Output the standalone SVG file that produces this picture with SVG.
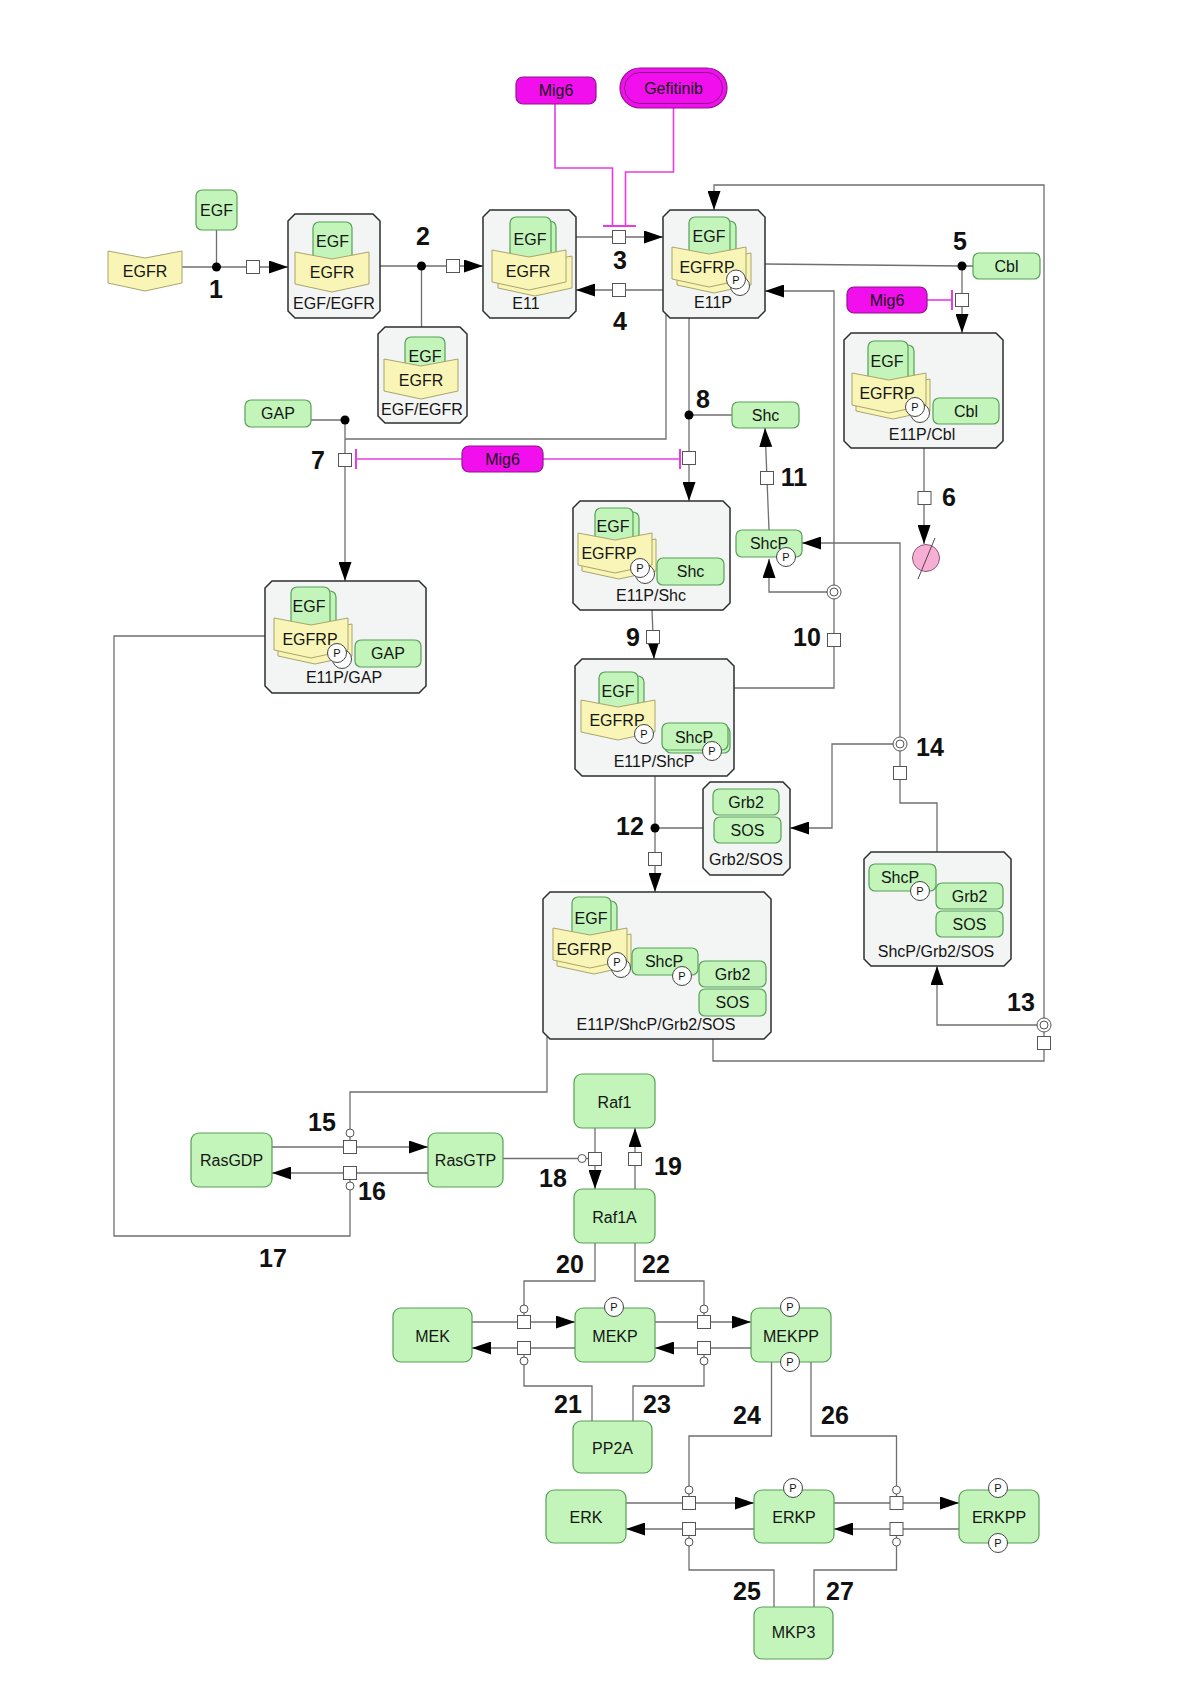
<svg xmlns="http://www.w3.org/2000/svg" xmlns:xlink="http://www.w3.org/1999/xlink" width="1200" height="1697" viewBox="0 0 1200 1697">
<style>
.gn{fill:#c3f5ba;stroke:#57a057;stroke-width:1.2}
.cx{fill:#f3f4f4;stroke:#2e2e2e;stroke-width:1.5}
.rcp{fill:#f8f5b6;stroke:#a9a56c;stroke-width:1}
.mg{fill:#f20fee;stroke:#8c168c;stroke-width:1.2}
.t{font-family:"Liberation Sans",Arial,sans-serif;font-size:16px;fill:#151515;text-anchor:middle}
.n{font-family:"Liberation Sans",Arial,sans-serif;font-size:25px;font-weight:bold;fill:#111;text-anchor:middle}
.pt{font-family:"Liberation Sans",Arial,sans-serif;font-size:11px;fill:#111;text-anchor:middle}
.ln{fill:none;stroke:#6f6f6f;stroke-width:1.3}
.inh{fill:none;stroke:#e83ce2;stroke-width:1.6}
.bar{fill:none;stroke:#e83ce2;stroke-width:2}
.sq{fill:#fff;stroke:#555;stroke-width:1}
.pc{fill:#fff;stroke:#444;stroke-width:1}
.dot{fill:#000}
.oc{fill:#fff;stroke:#555;stroke-width:1}
.dg{fill:#f7aed3;stroke:#8a5a73;stroke-width:1}
</style>
<defs>
<marker id="arr" markerUnits="userSpaceOnUse" markerWidth="19" markerHeight="13" refX="19" refY="6.5" orient="auto"><path d="M0,0 L19,6.5 L0,13 Z" fill="#000"/></marker>
<path id="chev" d="M0,0 L37,7 L74,0 V32 L37,40 L0,32 Z"/>
</defs>
<rect width="1200" height="1697" fill="#fff"/>

<g id="connectors">
<path class="ln" d="M182,267 H288" marker-end="url(#arr)"/>
<path class="ln" d="M216.5,230 V267"/>
<path class="ln" d="M380,266 H483" marker-end="url(#arr)"/>
<path class="ln" d="M421.5,266 V327"/>
<path class="ln" d="M576,237 H663" marker-end="url(#arr)"/>
<path class="ln" d="M663,290 H576" marker-end="url(#arr)"/>
<path class="inh" d="M555,104 V168 H612.5 V226"/>
<path class="inh" d="M673.5,108 V172 H625.5 V226"/>
<path class="bar" d="M603,226 H636"/>
<path class="ln" d="M765,264 L962,266 H973"/>
<path class="ln" d="M962,266 V333" marker-end="url(#arr)"/>
<path class="inh" d="M927,300 H952"/>
<path class="bar" d="M952,290 V310"/>
<path class="ln" d="M924,448 V544" marker-end="url(#arr)"/>
<path class="ln" d="M311,420 H345"/>
<path class="ln" d="M345,420 V581" marker-end="url(#arr)"/>
<path class="ln" d="M666,315 V439 H345"/>
<path class="inh" d="M462,459 H356"/>
<path class="bar" d="M356,449 V469"/>
<path class="ln" d="M689,318 V501" marker-end="url(#arr)"/>
<path class="ln" d="M689,415 H732"/>
<path class="inh" d="M543,459 H680"/>
<path class="bar" d="M680,449 V469"/>
<path class="ln" d="M652,610 L654,659" marker-end="url(#arr)"/>
<path class="ln" d="M734,688 H834 V291 H765" marker-end="url(#arr)"/>
<path class="ln" d="M834,592 H769 V559" marker-end="url(#arr)"/>
<path class="ln" d="M769,530 L765,428" marker-end="url(#arr)"/>
<path class="ln" d="M655,776 V892" marker-end="url(#arr)"/>
<path class="ln" d="M655,828 H703"/>
<path class="ln" d="M713,1039 V1061 H1044 V185 H714 V210" marker-end="url(#arr)"/>
<path class="ln" d="M1044,1025 H937 V966" marker-end="url(#arr)"/>
<path class="ln" d="M937,852 V803 H900 V543 H802" marker-end="url(#arr)"/>
<path class="ln" d="M900,744 H832 V828 H790" marker-end="url(#arr)"/>
<path class="ln" d="M272,1147 H428" marker-end="url(#arr)"/>
<path class="ln" d="M428,1173 H272" marker-end="url(#arr)"/>
<path class="ln" d="M547,1037 V1092 H350 V1140.5"/>
<path class="ln" d="M350,1179.5 V1236 H114 V636 H265"/>
<path class="ln" d="M595,1128 V1189" marker-end="url(#arr)"/>
<path class="ln" d="M503,1158.5 H588.5"/>
<path class="ln" d="M635,1189 V1128" marker-end="url(#arr)"/>
<path class="ln" d="M472,1322 H575" marker-end="url(#arr)"/>
<path class="ln" d="M575,1348 H472" marker-end="url(#arr)"/>
<path class="ln" d="M655,1322 H751" marker-end="url(#arr)"/>
<path class="ln" d="M751,1348 H655" marker-end="url(#arr)"/>
<path class="ln" d="M524,1315.5 V1281 H595 V1243"/>
<path class="ln" d="M524,1354.5 V1386 H592 V1421"/>
<path class="ln" d="M704,1315.5 V1281 H635 V1243"/>
<path class="ln" d="M704,1354.5 V1386 H633 V1421"/>
<path class="ln" d="M626,1503 H754" marker-end="url(#arr)"/>
<path class="ln" d="M754,1529 H626" marker-end="url(#arr)"/>
<path class="ln" d="M834,1503 H959" marker-end="url(#arr)"/>
<path class="ln" d="M959,1529 H834" marker-end="url(#arr)"/>
<path class="ln" d="M689,1496.5 V1436 H771.5 V1362"/>
<path class="ln" d="M689,1535.5 V1570 H774 V1607"/>
<path class="ln" d="M896.5,1496.5 V1436 H811 V1362"/>
<path class="ln" d="M896.5,1535.5 V1570 H814 V1607"/>

<rect class="sq" x="246.5" y="260.5" width="13" height="13"/>
<rect class="sq" x="446.5" y="259.5" width="13" height="13"/>
<rect class="sq" x="612.5" y="230.5" width="13" height="13"/>
<rect class="sq" x="612.5" y="283.5" width="13" height="13"/>
<rect class="sq" x="955.5" y="293.5" width="13" height="13"/>
<rect class="sq" x="918" y="491.5" width="13" height="13"/>
<rect class="sq" x="338.5" y="453.5" width="13" height="13"/>
<rect class="sq" x="682.5" y="451.5" width="13" height="13"/>
<rect class="sq" x="646.5" y="630.5" width="13" height="13"/>
<rect class="sq" x="827.5" y="633.5" width="13" height="13"/>
<rect class="sq" x="760.5" y="471.5" width="13" height="13"/>
<rect class="sq" x="648.5" y="852.5" width="13" height="13"/>
<rect class="sq" x="1037.5" y="1036.5" width="13" height="13"/>
<rect class="sq" x="893.5" y="766.5" width="13" height="13"/>
<rect class="sq" x="343.5" y="1140.5" width="13" height="13"/>
<rect class="sq" x="343.5" y="1166.5" width="13" height="13"/>
<rect class="sq" x="588.5" y="1152.5" width="13" height="13"/>
<rect class="sq" x="628.5" y="1152.5" width="13" height="13"/>
<rect class="sq" x="517.5" y="1315.5" width="13" height="13"/>
<rect class="sq" x="517.5" y="1341.5" width="13" height="13"/>
<rect class="sq" x="697.5" y="1315.5" width="13" height="13"/>
<rect class="sq" x="697.5" y="1341.5" width="13" height="13"/>
<rect class="sq" x="682.5" y="1496.5" width="13" height="13"/>
<rect class="sq" x="682.5" y="1522.5" width="13" height="13"/>
<rect class="sq" x="890" y="1496.5" width="13" height="13"/>
<rect class="sq" x="890" y="1522.5" width="13" height="13"/>

<circle class="dot" cx="216.5" cy="267" r="4.5"/>
<circle class="dot" cx="421.5" cy="266" r="4.5"/>
<circle class="dot" cx="962" cy="266" r="4.5"/>
<circle class="dot" cx="345" cy="420" r="4.5"/>
<circle class="dot" cx="689" cy="415" r="4.5"/>
<circle class="dot" cx="655" cy="828" r="4.5"/>

<circle class="oc" cx="834" cy="592" r="7"/><circle class="oc" cx="834" cy="592" r="4"/>
<circle class="oc" cx="1044" cy="1025" r="7"/><circle class="oc" cx="1044" cy="1025" r="4"/>
<circle class="oc" cx="900" cy="744" r="7"/><circle class="oc" cx="900" cy="744" r="4"/>

<circle class="oc" cx="350" cy="1133" r="4"/>
<circle class="oc" cx="350" cy="1186" r="4"/>
<circle class="oc" cx="582" cy="1158.5" r="4"/>
<circle class="oc" cx="524" cy="1309" r="4"/>
<circle class="oc" cx="524" cy="1361" r="4"/>
<circle class="oc" cx="704" cy="1309" r="4"/>
<circle class="oc" cx="704" cy="1361" r="4"/>
<circle class="oc" cx="689" cy="1490" r="4"/>
<circle class="oc" cx="689" cy="1542" r="4"/>
<circle class="oc" cx="896.5" cy="1490" r="4"/>
<circle class="oc" cx="896.5" cy="1542" r="4"/>
</g>

<g id="EGF"><rect class="gn" x="196" y="190" width="41" height="40" rx="6"/><text class="t" x="216.5" y="216">EGF</text></g>
<g id="EGFR"><use xlink:href="#chev" href="#chev" x="108" y="251" class="rcp"/><text class="t" x="145" y="277">EGFR</text></g>
<g id="Mig6_a"><rect class="mg" x="516" y="77" width="80" height="27" rx="7"/><text class="t" x="556" y="96">Mig6</text></g>
<g id="Gefitinib"><rect class="mg" x="620" y="68" width="107" height="40" rx="20"/><rect fill="none" stroke="#8c168c" stroke-width="1" x="624.5" y="72.5" width="98" height="31" rx="15.5"/><text class="t" x="673.5" y="93.5">Gefitinib</text></g>
<g id="Mig6_b"><rect class="mg" x="847" y="287" width="80" height="26" rx="7"/><text class="t" x="887" y="305.5">Mig6</text></g>
<g id="Mig6_c"><rect class="mg" x="462" y="446" width="81" height="26" rx="7"/><text class="t" x="502.5" y="464.5">Mig6</text></g>
<g id="Cbl"><rect class="gn" x="973" y="253" width="67" height="26" rx="6"/><text class="t" x="1006.5" y="271.5">Cbl</text></g>
<g id="GAP"><rect class="gn" x="245" y="400" width="66" height="27" rx="6"/><text class="t" x="278" y="419">GAP</text></g>
<g id="Shc"><rect class="gn" x="732" y="402" width="67" height="26" rx="6"/><text class="t" x="765.5" y="420.5">Shc</text></g>
<g id="ShcP"><rect class="gn" x="736" y="530" width="66" height="27" rx="6"/><text class="t" x="769" y="548.5">ShcP</text><circle class="pc" cx="786" cy="557" r="9.5"/><text class="pt" x="786" y="561">P</text></g>
<g id="degradation"><circle class="dg" cx="926" cy="558" r="13.5"/><path d="M918,579 L935,538" stroke="#5a4050" stroke-width="1"/></g>

<g id="EGF_EGFR_1">
<path class="cx" d="M295,214 H373 L380,221 V311 L373,318 H295 L288,311 V221 Z"/>
<rect class="gn" x="313" y="222" width="39" height="44" rx="6"/>
<use xlink:href="#chev" href="#chev" x="295" y="252" class="rcp"/>
<text class="t" x="332.5" y="247">EGF</text>
<text class="t" x="332" y="278">EGFR</text>
<text class="t" x="334" y="309">EGF/EGFR</text>
</g>
<g id="EGF_EGFR_2">
<path class="cx" d="M385,327 H460 L467,334 V416 L460,423 H385 L378,416 V334 Z"/>
<rect class="gn" x="405" y="337" width="40" height="36" rx="6"/>
<use xlink:href="#chev" href="#chev" x="384" y="359" class="rcp"/>
<text class="t" x="425" y="362">EGF</text>
<text class="t" x="421" y="386">EGFR</text>
<text class="t" x="422" y="414.5">EGF/EGFR</text>
</g>
<g id="E11">
<path class="cx" d="M490,210 H569 L576,217 V311 L569,318 H490 L483,311 V217 Z"/>
<rect class="gn" x="515" y="221" width="41" height="42" rx="6"/>
<rect class="gn" x="510" y="217" width="41" height="44" rx="6"/>
<use xlink:href="#chev" href="#chev" x="498" y="256" class="rcp"/>
<use xlink:href="#chev" href="#chev" x="492" y="250" class="rcp"/>
<text class="t" x="530" y="244.5">EGF</text>
<text class="t" x="528" y="277">EGFR</text>
<text class="t" x="526" y="309">E11</text>
</g>
<g id="E11P">
<path class="cx" d="M670,210 H758 L765,217 V311 L758,318 H670 L663,311 V217 Z"/>
<rect class="gn" x="695" y="221" width="41" height="40" rx="6"/>
<rect class="gn" x="689" y="217" width="41" height="42" rx="6"/>
<use xlink:href="#chev" href="#chev" x="677" y="253" class="rcp"/>
<use xlink:href="#chev" href="#chev" x="672" y="247" class="rcp"/>
<text class="t" x="709" y="242">EGF</text>
<text class="t" x="707" y="272.5">EGFRP</text>
<circle class="pc" cx="740" cy="286" r="9.5"/>
<circle class="pc" cx="736" cy="279.5" r="9.5"/><text class="pt" x="736" y="283.5">P</text>
<text class="t" x="713" y="308">E11P</text>
</g>
<g id="E11P_Cbl">
<path class="cx" d="M851,333 H996 L1003,340 V441 L996,448 H851 L844,441 V340 Z"/>
<rect class="gn" x="874" y="345" width="40" height="40" rx="6"/>
<rect class="gn" x="868" y="341" width="40" height="42" rx="6"/>
<use xlink:href="#chev" href="#chev" x="856" y="379" class="rcp"/>
<use xlink:href="#chev" href="#chev" x="852" y="373" class="rcp"/>
<text class="t" x="887" y="367">EGF</text>
<text class="t" x="887" y="398.5">EGFRP</text>
<circle class="pc" cx="920" cy="413" r="9.5"/>
<circle class="pc" cx="915" cy="407" r="9.5"/><text class="pt" x="915" y="411">P</text>
<rect class="gn" x="933" y="398" width="66" height="26" rx="6"/><text class="t" x="966" y="416.5">Cbl</text>
<text class="t" x="922" y="439.5">E11P/Cbl</text>
</g>
<g id="E11P_Shc">
<path class="cx" d="M580,501 H723 L730,508 V603 L723,610 H580 L573,603 V508 Z"/>
<rect class="gn" x="601" y="512" width="38" height="30" rx="6"/>
<rect class="gn" x="595" y="508" width="38" height="34" rx="6"/>
<use xlink:href="#chev" href="#chev" x="582" y="539" class="rcp"/>
<use xlink:href="#chev" href="#chev" x="578" y="533" class="rcp"/>
<text class="t" x="613" y="532">EGF</text>
<text class="t" x="609" y="558.5">EGFRP</text>
<circle class="pc" cx="645" cy="574" r="9.5"/>
<circle class="pc" cx="640" cy="568" r="9.5"/><text class="pt" x="640" y="572">P</text>
<rect class="gn" x="657" y="558" width="67" height="27" rx="6"/><text class="t" x="690.5" y="577">Shc</text>
<text class="t" x="651" y="601">E11P/Shc</text>
</g>
<g id="E11P_GAP">
<path class="cx" d="M272,581 H419 L426,588 V686 L419,693 H272 L265,686 V588 Z"/>
<rect class="gn" x="297" y="591" width="39" height="40" rx="6"/>
<rect class="gn" x="291" y="587" width="39" height="44" rx="6"/>
<use xlink:href="#chev" href="#chev" x="278" y="624" class="rcp"/>
<use xlink:href="#chev" href="#chev" x="274" y="618" class="rcp"/>
<text class="t" x="309" y="612">EGF</text>
<text class="t" x="310" y="644.5">EGFRP</text>
<circle class="pc" cx="342" cy="659" r="9.5"/>
<circle class="pc" cx="337" cy="653" r="9.5"/><text class="pt" x="337" y="657">P</text>
<rect class="gn" x="355" y="640" width="66" height="27" rx="6"/><text class="t" x="388" y="659">GAP</text>
<text class="t" x="344" y="683">E11P/GAP</text>
</g>
<g id="E11P_ShcP">
<path class="cx" d="M582,659 H727 L734,666 V769 L727,776 H582 L575,769 V666 Z"/>
<rect class="gn" x="605" y="676" width="39" height="36" rx="6"/>
<rect class="gn" x="599" y="672" width="39" height="38" rx="6"/>
<use xlink:href="#chev" href="#chev" x="581" y="700" class="rcp"/>
<text class="t" x="618" y="697">EGF</text>
<text class="t" x="617" y="726">EGFRP</text>
<circle class="pc" cx="644" cy="734" r="9.5"/><text class="pt" x="644" y="738">P</text>
<rect class="gn" x="665" y="726" width="65" height="27" rx="6"/>
<rect class="gn" x="662" y="723" width="66" height="27" rx="6"/><text class="t" x="694" y="742.5">ShcP</text>
<circle class="pc" cx="712" cy="751" r="9.5"/><text class="pt" x="712" y="755">P</text>
<text class="t" x="654" y="767">E11P/ShcP</text>
</g>
<g id="Grb2_SOS">
<path class="cx" d="M710,782 H783 L790,789 V868 L783,875 H710 L703,868 V789 Z"/>
<rect class="gn" x="713" y="789" width="66" height="26" rx="6"/><text class="t" x="746" y="807.5">Grb2</text>
<rect class="gn" x="714" y="817" width="67" height="26" rx="6"/><text class="t" x="747.5" y="835.5">SOS</text>
<text class="t" x="746" y="865">Grb2/SOS</text>
</g>
<g id="ShcP_Grb2_SOS">
<path class="cx" d="M871,852 H1004 L1011,859 V959 L1004,966 H871 L864,959 V859 Z"/>
<rect class="gn" x="869" y="864" width="67" height="27" rx="6"/><text class="t" x="900" y="883">ShcP</text>
<rect class="gn" x="936" y="883" width="67" height="26" rx="6"/><text class="t" x="969.5" y="901.5">Grb2</text>
<rect class="gn" x="936" y="911" width="67" height="26" rx="6"/><text class="t" x="969.5" y="929.5">SOS</text>
<circle class="pc" cx="920" cy="891" r="9.5"/><text class="pt" x="920" y="895">P</text>
<text class="t" x="936" y="957">ShcP/Grb2/SOS</text>
</g>
<g id="E11P_ShcP_Grb2_SOS">
<path class="cx" d="M550,892 H764 L771,899 V1032 L764,1039 H550 L543,1032 V899 Z"/>
<rect class="gn" x="578" y="901" width="39" height="40" rx="6"/>
<rect class="gn" x="572" y="897" width="39" height="44" rx="6"/>
<use xlink:href="#chev" href="#chev" x="557" y="934" class="rcp"/>
<use xlink:href="#chev" href="#chev" x="553" y="928" class="rcp"/>
<text class="t" x="591" y="923.5">EGF</text>
<text class="t" x="584" y="954.5">EGFRP</text>
<circle class="pc" cx="621" cy="968" r="9.5"/>
<circle class="pc" cx="617" cy="962" r="9.5"/><text class="pt" x="617" y="966">P</text>
<rect class="gn" x="632" y="948" width="66" height="27" rx="6"/><text class="t" x="664" y="967">ShcP</text>
<rect class="gn" x="699" y="961" width="67" height="26" rx="6"/><text class="t" x="732.5" y="979.5">Grb2</text>
<rect class="gn" x="699" y="989" width="67" height="27" rx="6"/><text class="t" x="732.5" y="1008">SOS</text>
<circle class="pc" cx="682" cy="976" r="9.5"/><text class="pt" x="682" y="980">P</text>
<text class="t" x="656" y="1030">E11P/ShcP/Grb2/SOS</text>
</g>

<g id="RasGDP"><rect class="gn" x="191" y="1133" width="81" height="54" rx="8"/><text class="t" x="231.5" y="1166">RasGDP</text></g>
<g id="RasGTP"><rect class="gn" x="428" y="1133" width="75" height="54" rx="8"/><text class="t" x="465.5" y="1166">RasGTP</text></g>
<g id="Raf1"><rect class="gn" x="574" y="1074" width="81" height="54" rx="8"/><text class="t" x="614.5" y="1108">Raf1</text></g>
<g id="Raf1A"><rect class="gn" x="574" y="1189" width="81" height="54" rx="8"/><text class="t" x="614.5" y="1222.5">Raf1A</text></g>
<g id="MEK"><rect class="gn" x="393" y="1308" width="79" height="54" rx="8"/><text class="t" x="432.5" y="1342">MEK</text></g>
<g id="MEKP"><rect class="gn" x="575" y="1308" width="80" height="54" rx="8"/><text class="t" x="615" y="1342">MEKP</text><circle class="pc" cx="614" cy="1307" r="9.5"/><text class="pt" x="614" y="1311">P</text></g>
<g id="MEKPP"><rect class="gn" x="751" y="1308" width="80" height="54" rx="8"/><text class="t" x="791" y="1342">MEKPP</text><circle class="pc" cx="790" cy="1307" r="9.5"/><text class="pt" x="790" y="1311">P</text><circle class="pc" cx="790" cy="1362" r="9.5"/><text class="pt" x="790" y="1366">P</text></g>
<g id="PP2A"><rect class="gn" x="573" y="1421" width="79" height="52" rx="8"/><text class="t" x="612.5" y="1453.5">PP2A</text></g>
<g id="ERK"><rect class="gn" x="546" y="1490" width="80" height="53" rx="8"/><text class="t" x="586" y="1522.5">ERK</text></g>
<g id="ERKP"><rect class="gn" x="754" y="1490" width="80" height="53" rx="8"/><text class="t" x="794" y="1522.5">ERKP</text><circle class="pc" cx="793" cy="1488" r="9.5"/><text class="pt" x="793" y="1492">P</text></g>
<g id="ERKPP"><rect class="gn" x="959" y="1490" width="80" height="53" rx="8"/><text class="t" x="999" y="1522.5">ERKPP</text><circle class="pc" cx="998" cy="1488" r="9.5"/><text class="pt" x="998" y="1492">P</text><circle class="pc" cx="998" cy="1543" r="9.5"/><text class="pt" x="998" y="1547">P</text></g>
<g id="MKP3"><rect class="gn" x="754" y="1607" width="79" height="52" rx="8"/><text class="t" x="793.5" y="1638">MKP3</text></g>

<g id="reaction-numbers">
<text class="n" x="216" y="298">1</text>
<text class="n" x="423" y="245">2</text>
<text class="n" x="620" y="269">3</text>
<text class="n" x="620" y="330">4</text>
<text class="n" x="960" y="250">5</text>
<text class="n" x="949" y="506">6</text>
<text class="n" x="318" y="469">7</text>
<text class="n" x="703" y="408">8</text>
<text class="n" x="633" y="646">9</text>
<text class="n" x="807" y="646">10</text>
<text class="n" x="794" y="486">11</text>
<text class="n" x="630" y="835">12</text>
<text class="n" x="1021" y="1011">13</text>
<text class="n" x="930" y="756">14</text>
<text class="n" x="322" y="1131">15</text>
<text class="n" x="372" y="1200">16</text>
<text class="n" x="273" y="1267">17</text>
<text class="n" x="553" y="1187">18</text>
<text class="n" x="668" y="1175">19</text>
<text class="n" x="570" y="1273">20</text>
<text class="n" x="568" y="1413">21</text>
<text class="n" x="656" y="1273">22</text>
<text class="n" x="657" y="1413">23</text>
<text class="n" x="747" y="1424">24</text>
<text class="n" x="747" y="1600">25</text>
<text class="n" x="835" y="1424">26</text>
<text class="n" x="840" y="1600">27</text>
</g>
</svg>
